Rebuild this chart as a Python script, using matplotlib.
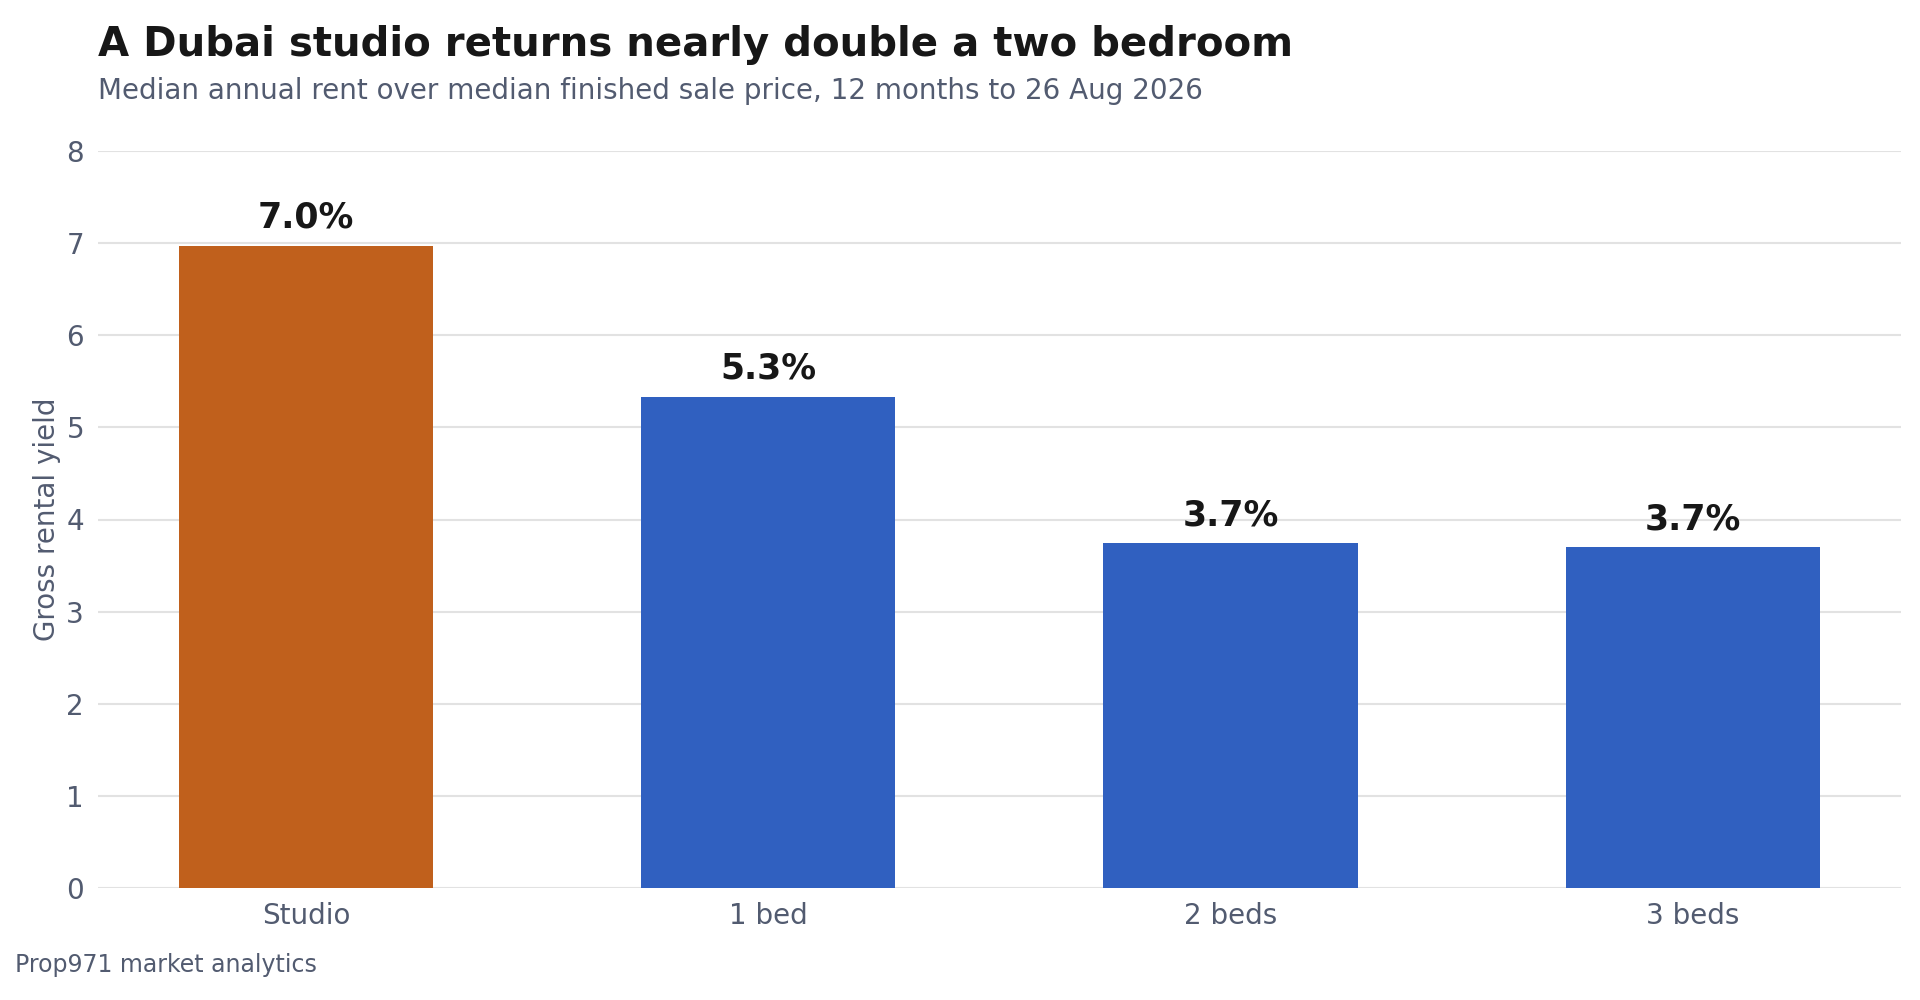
import matplotlib.pyplot as plt

categories = ["Studio", "1 bed", "2 beds", "3 beds"]
yields = [6.97, 5.33, 3.74, 3.70]
labels = ["7.0%", "5.3%", "3.7%", "3.7%"]
colors = ["#c0601c", "#3060c0", "#3060c0", "#3060c0"]

fig = plt.figure(figsize=(19.2, 10), dpi=100)
ax = fig.add_axes([0.051, 0.112, 0.939, 0.737])

bars = ax.bar(categories, yields, width=0.55, color=colors, zorder=2)
for b, lab in zip(bars, labels):
    ax.text(b.get_x() + b.get_width() / 2, b.get_height() + 0.12, lab,
            ha="center", va="bottom", fontsize=25, fontweight="bold", color="#171717")

ax.set_ylim(0, 8)
ax.set_xlim(-0.45, 3.45)
ax.set_yticks(range(0, 9))
ax.grid(axis="y", color="#e2e2e2", lw=1.5, zorder=0)
for s in ax.spines.values():
    s.set_visible(False)
ax.tick_params(length=0, labelsize=20, labelcolor="#525b70", pad=10)
ax.set_ylabel("Gross rental yield", fontsize=20, color="#525b70")

fig.text(0.051, 0.955, "A Dubai studio returns nearly double a two bedroom",
         fontsize=29, fontweight="bold", color="#171717", va="center")
fig.text(0.051, 0.909, "Median annual rent over median finished sale price, 12 months to 26 Aug 2026",
         fontsize=20, color="#525b70", va="center")
fig.text(0.008, 0.035, "Prop971 market analytics", fontsize=17, color="#525b70", va="center")

fig.savefig("out.png", dpi=100)
